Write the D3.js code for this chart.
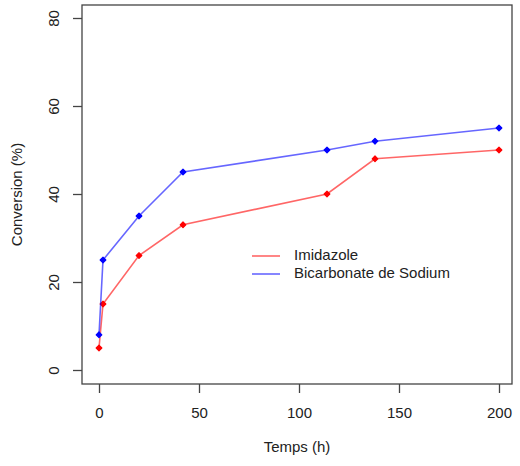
<!DOCTYPE html>
<html>
<head>
<meta charset="utf-8">
<script src="https://cdn.jsdelivr.net/npm/d3@7"></script>
<style>
  body { margin: 0; background: #fff; }
  svg { display: block; }
</style>
</head>
<body>
<div id="vis"></div>
<script>
// data
const temps = [0, 2, 20, 42, 114, 138, 200];
const imidazole = [5, 15, 26, 33, 40, 48, 50];
const bicarbonate = [8, 25, 35, 45, 50, 52, 55];
const xTicks = [0, 50, 100, 150, 200];
const yTicks = [0, 20, 40, 60, 80];
const seriesNames = ['Imidazole', 'Bicarbonate de Sodium'];
const seriesColors = ['#ff0000', '#0000ff'];

const width = 520;
const height = 466;
const font = 'Liberation Sans, Arial, sans-serif';
const fontSize = '15px';
const axisColor = '#444';

const svg = d3.select('#vis')
    .append('svg')
    .attr('width', width)
    .attr('height', height);

// plot box
const box = {left: 82, top: 5, right: 512, bottom: 384};

const x = d3.scaleLinear().domain([0, 200]).range([99, 499]);
const y = d3.scaleLinear().domain([0, 80]).range([370, 18]);

svg.append('rect')
    .attr('x', box.left)
    .attr('y', box.top)
    .attr('width', box.right - box.left)
    .attr('height', box.bottom - box.top)
    .attr('fill', 'none')
    .attr('stroke', axisColor)
    .attr('stroke-width', 1.3);

// x axis
const xAxis = svg.append('g')
    .attr('transform', 'translate(0,' + box.bottom + ')')
    .call(d3.axisBottom(x).tickValues(xTicks).tickSize(9).tickPadding(14));
xAxis.select('.domain').remove();
xAxis.selectAll('line').attr('stroke', axisColor).attr('stroke-width', 1.3);
xAxis.selectAll('text')
    .attr('font-family', font)
    .attr('font-size', fontSize)
    .attr('fill', '#222');

// y axis
const yAxis = svg.append('g')
    .attr('transform', 'translate(' + box.left + ',0)')
    .call(d3.axisLeft(y).tickValues(yTicks).tickSize(9));
yAxis.select('.domain').remove();
yAxis.selectAll('line').attr('stroke', axisColor).attr('stroke-width', 1.3);
yAxis.selectAll('text')
    .attr('font-family', font)
    .attr('font-size', fontSize)
    .attr('fill', '#222')
    .attr('text-anchor', 'middle')
    .attr('dominant-baseline', 'middle')
    .attr('x', 0)
    .attr('y', 0)
    .attr('dy', null)
    .attr('transform', 'translate(-27,0) rotate(-90)');

// axis titles
svg.append('text')
    .attr('x', (box.left + box.right) / 2)
    .attr('y', 448)
    .attr('font-family', font)
    .attr('font-size', fontSize)
    .attr('fill', '#222')
    .attr('text-anchor', 'middle')
    .attr('dominant-baseline', 'middle')
    .text('Temps (h)');

svg.append('text')
    .attr('transform', 'translate(18,' + (box.top + box.bottom) / 2 + ') rotate(-90)')
    .attr('font-family', font)
    .attr('font-size', fontSize)
    .attr('fill', '#222')
    .attr('text-anchor', 'middle')
    .attr('dominant-baseline', 'middle')
    .text('Conversion (%)');

// series
const series = [imidazole, bicarbonate];
const line = d3.line()
    .x((d, i) => x(temps[i]))
    .y(d => y(d));
const diamond = d3.symbol().type(d3.symbolSquare).size(16);

for (let s = 0; s < series.length; s++) {
    svg.append('path')
        .datum(series[s])
        .attr('d', line)
        .attr('fill', 'none')
        .attr('stroke', seriesColors[s])
        .attr('stroke-opacity', 0.6)
        .attr('stroke-width', 1.6);

    svg.append('g')
        .selectAll('path')
        .data(series[s])
        .join('path')
        .attr('d', diamond)
        .attr('transform', (d, i) => 'translate(' + x(temps[i]) + ',' + y(d) + ') rotate(45)')
        .attr('fill', seriesColors[s])
        .attr('stroke', seriesColors[s])
        .attr('stroke-width', 1.2)
        .attr('stroke-linejoin', 'round');
}

// legend
for (let s = 0; s < seriesNames.length; s++) {
    const ly = 256 + s * 18;
    svg.append('line')
        .attr('x1', 252)
        .attr('x2', 280)
        .attr('y1', ly)
        .attr('y2', ly)
        .attr('stroke', seriesColors[s])
        .attr('stroke-opacity', 0.6)
        .attr('stroke-width', 1.6);

    svg.append('text')
        .attr('x', 294)
        .attr('y', ly)
        .attr('font-family', font)
        .attr('font-size', fontSize)
        .attr('fill', '#222')
        .attr('dominant-baseline', 'middle')
        .text(seriesNames[s]);
}
</script>
</body>
</html>
